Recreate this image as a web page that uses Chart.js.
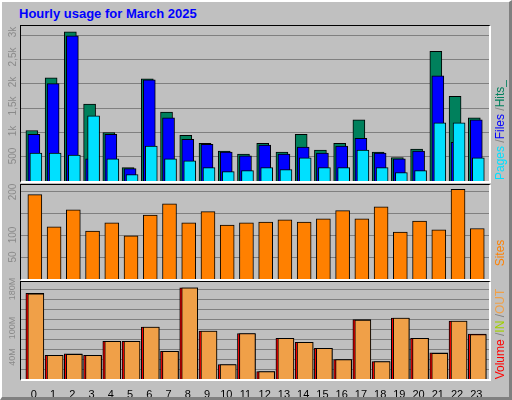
<!DOCTYPE html>
<html><head><meta charset="utf-8">
<script src="https://cdn.jsdelivr.net/npm/chart.js@4/dist/chart.umd.min.js"></script>
<style>
body{margin:0;background:#fff;}
#wrap{position:relative;width:512px;height:400px;background:#c0c0c0;box-sizing:border-box;border-top:2px solid #fff;border-left:2px solid #fff;border-right:3px solid #808080;border-bottom:3px solid #808080;overflow:hidden;font-family:"Liberation Sans",Arial,sans-serif;}
.abs{position:absolute;}
.frame{position:absolute;box-sizing:border-box;border-top:1px solid #000;border-left:1px solid #000;border-right:2px solid #fff;border-bottom:2px solid #fff;pointer-events:none;}
.rot{position:absolute;transform:translate(-50%,-50%) rotate(-90deg);white-space:nowrap;}
.yl{font-size:10px;color:#8a8a8a;}
</style></head><body>
<div id="wrap"></div>
<script>
const hours=[0,1,2,3,4,5,6,7,8,9,10,11,12,13,14,15,16,17,18,19,20,21,22,23];
const hits=[1037,2121,3064,1579,997,274,2100,1418,937,776,615,555,776,595,957,635,776,1258,595,482,656,2663,1739,1298];
const files=[957,2000,2984,455,957,254,2080,1298,856,756,595,515,736,555,696,575,716,876,575,455,615,2161,796,1258];
const pages=[575,575,535,1338,455,134,716,455,415,274,194,214,274,234,475,274,274,635,274,174,214,1197,1197,475];
const sites=[194,120,159,110,129,99,147,173,129,155,124,129,131,136,131,138,157,138,166,108,133,113,206,116];
const volume=[173,48,51,48,76,76,105,56,184,97,29,92,15,82,74,62,39,120,35,123,82,53,117,91];
const volOut=[172,48,50,48,76,76,105,56,184,97,29,92,15,82,74,62,39,119,35,123,82,52,117,90];
const topTicks=[500,1000,1500,2000,2500,3000], topTickLabels=["500","1k","1,5k","2k","2,5k","3k"];
const siteTicks=[50,100,150,200], siteTickLabels=["50","100","","200"];
const volTicks=[20,40,60,80,100,120,140,160,180], volTickLabels=["","40M","","","100M","","","","180M"];

const wrap=document.getElementById('wrap');
function el(cls,txt,x,y,style){const d=document.createElement('div');d.className=cls;d.textContent=txt;d.style.left=x+'px';d.style.top=y+'px';if(style)Object.assign(d.style,style);wrap.appendChild(d);return d;}
// wrap has 2px border: inner coords offset
const OX=2,OY=2;
const title=el('abs','Hourly usage for March 2025',19-OX,6-OY,{fontWeight:'bold',fontSize:'13px',color:'#0000ff'});

function pts(arr,off){return arr.map((v,i)=>({x:hours[i]+off,y:v}));}
const XMIN=-0.67,XMAX=23.66;
function makeChart(top,height,extra,datasets,ymax,ticks,showX){
  const c=document.createElement('canvas');
  const div=document.createElement('div');
  div.className='abs';div.style.left=(21-OX)+'px';div.style.top=(top-OY)+'px';div.style.width='468px';div.style.height=(height+extra)+'px';
  div.appendChild(c);wrap.appendChild(div);
  new Chart(c,{type:'bar',data:{datasets},options:{
    responsive:true,maintainAspectRatio:false,animation:false,
    plugins:{legend:{display:false},tooltip:{enabled:false}},
    layout:{padding:0},
    scales:{
      x:{type:'linear',min:XMIN,max:XMAX,offset:false,
        grid:{display:false},border:{display:false},
        afterBuildTicks:s=>{s.ticks=hours.map(h=>({value:h}));},
        afterFit:s=>{s.height=extra;},
        ticks:{display:showX,autoSkip:false,maxRotation:0,padding:1,color:'#000',font:{family:'Liberation Sans',size:11},callback:v=>String(v)}},
      y:{min:0,max:ymax,
        afterBuildTicks:s=>{s.ticks=ticks.map(t=>({value:t}));},
        afterFit:s=>{s.width=0;},
        grid:{color:'#808080',drawTicks:false,lineWidth:1},border:{display:false},
        ticks:{display:false}}
    }}});
}
function bar(data,color,w,order){return {data,backgroundColor:color,borderColor:'#000',borderWidth:1,barThickness:w,order,grouped:false};}
// top panel: chart area y 26..181
makeChart(26,155,0,[
  bar(pts(hits,-0.104),'#00805c',12,3),
  bar(pts(files,0),'#0000ff',12,2),
  bar(pts(pages,0.104),'#00e0ff',12,1)],3185,topTicks,false);
makeChart(185,94,0,[bar(pts(sites,0.05),'#ff8000',14,1)],216,siteTicks,false);
makeChart(282,97,21,[
  bar(pts(volume,0.05),'#ff0000',18,2),
  bar(pts(volOut,0.1),'#f0a048',16,1)],196,volTicks,true);

// frames
function frame(x,y,w,h){const d=document.createElement('div');d.className='frame';d.style.left=(x-OX)+'px';d.style.top=(y-OY)+'px';d.style.width=w+'px';d.style.height=h+'px';wrap.appendChild(d);}
frame(20,25,471,158);frame(20,184,471,97);frame(20,281,471,100);

// y tick labels (rotated)
const topPos=[156,131,106,82,57,32];
topTickLabels.forEach((t,i)=>el('rot yl',t,12-OX,topPos[i]-OY));
const sitePos=[257,235,214,192];
siteTickLabels.forEach((t,i)=>{if(t)el('rot yl',t,12-OX,sitePos[i]-OY);});
const volPos={"40M":357,"100M":328,"180M":289};
Object.keys(volPos).forEach(k=>el('rot yl',k,12-OX,volPos[k]-OY,{fontSize:'9px'}));

// right legends
function legend(parts,cx,cy){const d=document.createElement('div');d.className='rot';d.style.left=(cx-OX)+'px';d.style.top=(cy-OY)+'px';d.style.fontSize='12px';
 parts.forEach(([t,c])=>{const s=document.createElement('span');s.textContent=t;s.style.color=c;d.appendChild(s);});wrap.appendChild(d);}
legend([['Pages','#00e0ff'],[' /','#808080'],['Files','#0000ff'],[' /','#808080'],['Hits_','#00805c']],500,130);
legend([['Sites','#ff8000']],500,253);
legend([['Volume','#ff0000'],[' /','#808080'],['IN','#a0d000'],[' /','#808080'],['OUT','#f0a048']],500,334);
</script>
</body></html>
